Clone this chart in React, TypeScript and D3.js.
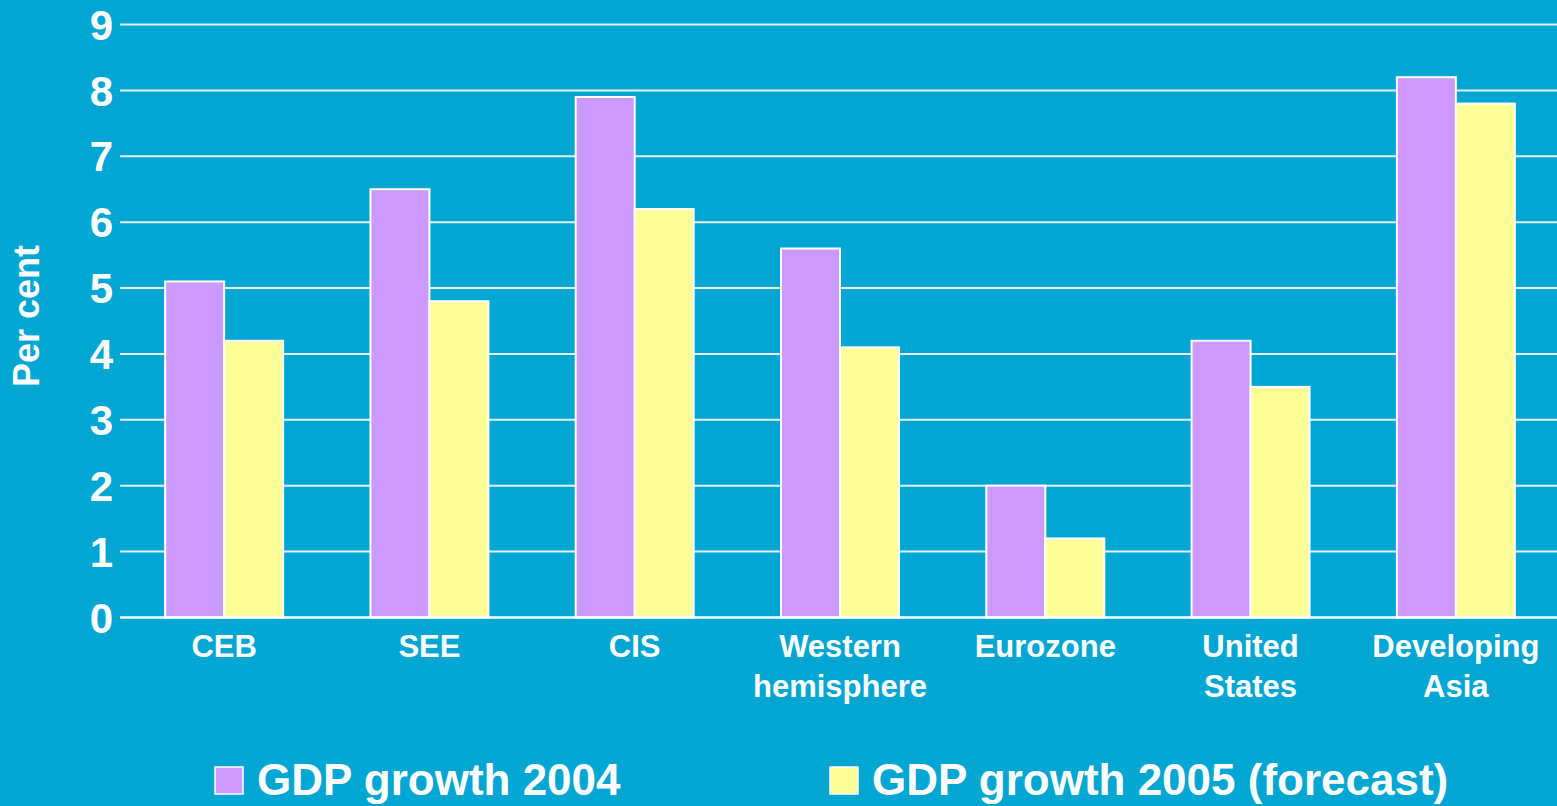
import React from "react";
import * as d3 from "d3";

const categories: string[][] = [
  ["CEB"],
  ["SEE"],
  ["CIS"],
  ["Western", "hemisphere"],
  ["Eurozone"],
  ["United", "States"],
  ["Developing", "Asia"],
];
const growth2004: number[] = [5.1, 6.5, 7.9, 5.6, 2.0, 4.2, 8.2];
const growth2005: number[] = [4.2, 4.8, 6.2, 4.1, 1.2, 3.5, 7.8];
const seriesNames: string[] = ["GDP growth 2004", "GDP growth 2005 (forecast)"];
const seriesColors: string[] = ["#CC99FF", "#FFFF99"];
const yTicks: number[] = [0, 1, 2, 3, 4, 5, 6, 7, 8, 9];

const W = 1557;
const H = 806;
const BG = "#02A6D3";
const FONT = "'Liberation Sans', Arial, sans-serif";

export default function App() {
  const left = 120;
  const right = 1557;
  const top = 24.5;
  const bottom = 617.5;

  const y = d3.scaleLinear().domain([0, 9]).range([bottom, top]);
  const keys = categories.map((c) => c.join(" "));
  const x0 = d3.scaleBand<string>().domain(keys).range([left + 1.5, right + 1.5]).padding(0);
  const x1 = d3
    .scaleBand<number>()
    .domain([0, 1])
    .range([0, x0.bandwidth()])
    .paddingInner(0)
    .paddingOuter(0.74);

  const series = [growth2004, growth2005];

  return (
    <svg
      width={W}
      height={H}
      style={{ position: "absolute", left: 0, top: 0, display: "block" }}
      fontFamily={FONT}
    >
      <rect x={0} y={0} width={W} height={H} fill={BG} />
      {yTicks.map((t) => (
        <g key={t}>
          {t > 0 && (
            <line
              x1={left}
              x2={right}
              y1={y(t)}
              y2={y(t)}
              stroke="#E6F2F7"
              strokeWidth={2}
            />
          )}
          <text
            x={113}
            y={y(t)}
            dy="0.36em"
            textAnchor="end"
            fill="#fff"
            fontWeight="bold"
            fontSize={42}
          >
            {t}
          </text>
        </g>
      ))}
      {keys.map((k, i) => (
        <g key={k} transform={`translate(${x0(k)},0)`}>
          {series.map((s, j) => (
            <rect
              key={j}
              x={x1(j)}
              y={y(s[i])}
              width={x1.bandwidth()}
              height={y(0) - y(s[i])}
              fill={seriesColors[j]}
              stroke="#fff"
              strokeWidth={2}
            />
          ))}
        </g>
      ))}
      <line x1={left} x2={right} y1={y(0)} y2={y(0)} stroke="#fff" strokeWidth={2.5} />
      {categories.map((lines, i) => {
        const cx = (x0(keys[i]) as number) + x0.bandwidth() / 2;
        return (
          <text
            key={i}
            x={cx}
            y={657}
            textAnchor="middle"
            fill="#fff"
            fontWeight="bold"
            fontSize={31}
          >
            {lines.map((l, li) => (
              <tspan key={li} x={cx} dy={li === 0 ? 0 : 40}>
                {l}
              </tspan>
            ))}
          </text>
        );
      })}
      <text
        transform="translate(39,316) rotate(-90)"
        textAnchor="middle"
        fill="#fff"
        fontWeight="bold"
        fontSize={36}
      >
        Per cent
      </text>
      {seriesNames.map((n, j) => {
        const lx = j === 0 ? 215 : 830;
        return (
          <g key={n}>
            <rect x={lx} y={767} width={28} height={27} fill={seriesColors[j]} stroke="#fff" strokeWidth={1.5} />
            <text x={lx + 42} y={795} fill="#fff" fontWeight="bold" fontSize={44}>
              {n}
            </text>
          </g>
        );
      })}
    </svg>
  );
}
